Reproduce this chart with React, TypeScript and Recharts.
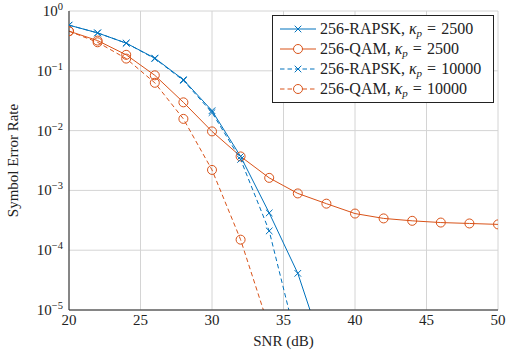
import React from "react";
import { LineChart, Line, XAxis, YAxis, CartesianGrid, Legend } from "recharts";

const FONT = '"Liberation Serif", "DejaVu Serif", serif';
const BLUE = "#0072BD";
const ORANGE = "#D95319";
const INK = "#222222";
const GRID = "#d4d4d4";

// SNR (dB) samples per curve
const snrRapsk2500 = [20, 22, 24, 26, 28, 30, 32, 34, 36, 38];
const snrQam2500 = [20, 22, 24, 26, 28, 30, 32, 34, 36, 38, 40, 42, 44, 46, 48, 50];
const snrRapsk10000 = [20, 22, 24, 26, 28, 30, 32, 34, 36];
const snrQam10000 = [20, 22, 24, 26, 28, 30, 32, 34];

// symbol error rate
const serRapsk2500 = [0.58, 0.43, 0.29, 0.163, 0.071, 0.0215, 0.0037, 4.2e-4, 4.1e-5, 1.5e-6];
const serQam2500 = [
  0.46, 0.32, 0.185, 0.084, 0.0297, 0.0097, 0.0037, 1.62e-3, 8.9e-4, 6.0e-4, 4.1e-4, 3.4e-4, 3.1e-4,
  2.9e-4, 2.8e-4, 2.7e-4,
];
const serRapsk10000 = [0.58, 0.43, 0.29, 0.16, 0.069, 0.02, 0.0033, 2.1e-4, 2.5e-6];
const serQam10000 = [0.46, 0.3, 0.16, 0.063, 0.0157, 2.2e-3, 1.5e-4, 5e-6];

const xTicks = [20, 25, 30, 35, 40, 45, 50];
const decadeTicks = [1, 1e-1, 1e-2, 1e-3, 1e-4, 1e-5];
const minorTicks = [1e-5, 1e-4, 1e-3, 1e-2, 1e-1].flatMap((d) =>
  [2, 3, 4, 5, 6, 7, 8, 9].map((k) => k * d)
);

const toPoints = (xs: number[], ys: number[]) => xs.map((snr, i) => ({ snr, ser: ys[i] }));

type Series = {
  key: string;
  scheme: string;
  kappa: string;
  color: string;
  dashed: boolean;
  marker: "cross" | "circle";
  data: { snr: number; ser: number }[];
};

const SERIES: Series[] = [
  { key: "r2500", scheme: "256-RAPSK", kappa: "2500", color: BLUE, dashed: false, marker: "cross", data: toPoints(snrRapsk2500, serRapsk2500) },
  { key: "q2500", scheme: "256-QAM", kappa: "2500", color: ORANGE, dashed: false, marker: "circle", data: toPoints(snrQam2500, serQam2500) },
  { key: "r10000", scheme: "256-RAPSK", kappa: "10000", color: BLUE, dashed: true, marker: "cross", data: toPoints(snrRapsk10000, serRapsk10000) },
  { key: "q10000", scheme: "256-QAM", kappa: "10000", color: ORANGE, dashed: true, marker: "circle", data: toPoints(snrQam10000, serQam10000) },
];

const DASH = "4.5 3";

function CrossDot(props: any) {
  const { cx, cy, color } = props;
  if (cx == null || cy == null) return null;
  const r = 3.3;
  return (
    <g stroke={color} strokeWidth={1}>
      <line x1={cx - r} y1={cy - r} x2={cx + r} y2={cy + r} />
      <line x1={cx - r} y1={cy + r} x2={cx + r} y2={cy - r} />
    </g>
  );
}

function DecadeTick(props: any) {
  const { x, y, payload } = props;
  const exp = Math.round(Math.log10(payload.value));
  const sup = exp === 0 ? "0" : "\u2212" + Math.abs(exp);
  return (
    <text x={x - 6} y={y + 5} textAnchor="end" fontFamily={FONT} fontSize={15} fill={INK}>
      10
      <tspan dy={-6} fontSize={10.5}>
        {sup}
      </tspan>
    </text>
  );
}

function MinorTickLeft(props: any) {
  const { x, y } = props;
  return <line x1={x} y1={y} x2={x + 3} y2={y} stroke="#555" strokeWidth={0.8} />;
}

function MinorTickRight(props: any) {
  const { x, y } = props;
  return <line x1={x} y1={y} x2={x - 3} y2={y} stroke="#555" strokeWidth={0.8} />;
}

function XTick(props: any) {
  const { x, y, payload } = props;
  return (
    <text x={x} y={y + 15} textAnchor="middle" fontFamily={FONT} fontSize={15} fill={INK}>
      {payload.value}
    </text>
  );
}

function LegendBox() {
  return (
    <div
      style={{
        border: `1px solid ${INK}`,
        background: "#fff",
        padding: "3px 6px",
        fontFamily: FONT,
        fontSize: 16,
        color: INK,
        boxSizing: "border-box",
        width: 222,
        overflow: "hidden",
      }}
    >
      {SERIES.map((s) => (
        <div key={s.key} style={{ display: "flex", alignItems: "center", height: 20, whiteSpace: "nowrap" }}>
          <svg width={38} height={12} style={{ marginRight: 3, flex: "none" }}>
            <line x1={1} y1={6} x2={37} y2={6} stroke={s.color} strokeWidth={1} strokeDasharray={s.dashed ? DASH : undefined} />
            {s.marker === "cross" ? (
              <CrossDot cx={19} cy={6} color={s.color} />
            ) : (
              <circle cx={19} cy={6} r={4.5} fill="#fff" stroke={s.color} strokeWidth={1} />
            )}
          </svg>
          <span>
            {s.scheme}, <i>κ</i>
            <sub style={{ fontSize: 11, fontStyle: "italic", verticalAlign: "-3px" }}>p</sub>
            <span style={{ margin: "0 5px" }}>=</span>
            {s.kappa}
          </span>
        </div>
      ))}
    </div>
  );
}

export default function App() {
  return (
    <div style={{ position: "absolute", left: 0, top: 0, background: "#fff" }}>
      <LineChart width={512} height={353} margin={{ top: 11, right: 14, bottom: 0, left: 0 }}>
        <CartesianGrid stroke={GRID} strokeWidth={1} xAxisId="bottom" yAxisId="main" />
        <XAxis
          xAxisId="bottom"
          dataKey="snr"
          type="number"
          domain={[20, 50]}
          ticks={xTicks}
          interval={0}
          height={43}
          tickSize={0}
          tickMargin={0}
          tickLine={false}
          tick={<XTick />}
          axisLine={{ stroke: INK, strokeWidth: 1 }}
          allowDataOverflow
          label={(p: any) => {
            const vb = p.viewBox;
            return (
              <text x={vb.x + vb.width / 2} y={vb.y + 36} textAnchor="middle" fontFamily={FONT} fontSize={15} fill={INK}>
                SNR (dB)
              </text>
            );
          }}
        />
        <XAxis
          xAxisId="top"
          orientation="top"
          type="number"
          domain={[20, 50]}
          height={0}
          tick={false}
          tickLine={false}
          axisLine={{ stroke: INK, strokeWidth: 1 }}
        />
        <YAxis
          yAxisId="main"
          type="number"
          scale="log"
          domain={[1e-5, 1]}
          allowDataOverflow
          ticks={decadeTicks}
          interval={0}
          width={69}
          tickSize={0}
          tickMargin={0}
          tickLine={false}
          tick={<DecadeTick />}
          axisLine={{ stroke: INK, strokeWidth: 1 }}
          label={(p: any) => {
            const vb = p.viewBox;
            const cx = vb.x + 13;
            const cy = vb.y + vb.height / 2;
            return (
              <text x={cx} y={cy} transform={`rotate(-90 ${cx} ${cy})`} textAnchor="middle" dominantBaseline="central" fontFamily={FONT} fontSize={15} fill={INK}>
                Symbol Error Rate
              </text>
            );
          }}
        />
        <YAxis
          yAxisId="minorL"
          type="number"
          scale="log"
          domain={[1e-5, 1]}
          allowDataOverflow
          ticks={minorTicks}
          interval={0}
          width={0}
          tickSize={0}
          tickMargin={0}
          tickLine={false}
          tick={<MinorTickLeft />}
          axisLine={false}
        />
        <YAxis
          yAxisId="minorR"
          orientation="right"
          type="number"
          scale="log"
          domain={[1e-5, 1]}
          allowDataOverflow
          ticks={minorTicks}
          interval={0}
          width={0}
          tickSize={0}
          tickMargin={0}
          tickLine={false}
          tick={<MinorTickRight />}
          axisLine={{ stroke: INK, strokeWidth: 1 }}
        />
        <Legend
          layout="vertical"
          align="center"
          verticalAlign="middle"
          width={222}
          wrapperStyle={{ top: 15, left: 272, width: 222 }}
          content={() => <LegendBox />}
        />
        {SERIES.map((s) => (
          <Line
            key={s.key}
            xAxisId="bottom"
            yAxisId="main"
            data={s.data}
            dataKey="ser"
            name={s.key}
            type="linear"
            stroke={s.color}
            strokeWidth={1}
            strokeDasharray={s.dashed ? DASH : undefined}
            dot={
              s.marker === "cross" ? (
                <CrossDot color={s.color} />
              ) : (
                { r: 4.5, fill: "none", stroke: s.color, strokeWidth: 1, strokeDasharray: "0" }
              )
            }
            activeDot={false}
            isAnimationActive={false}
          />
        ))}
      </LineChart>
    </div>
  );
}
